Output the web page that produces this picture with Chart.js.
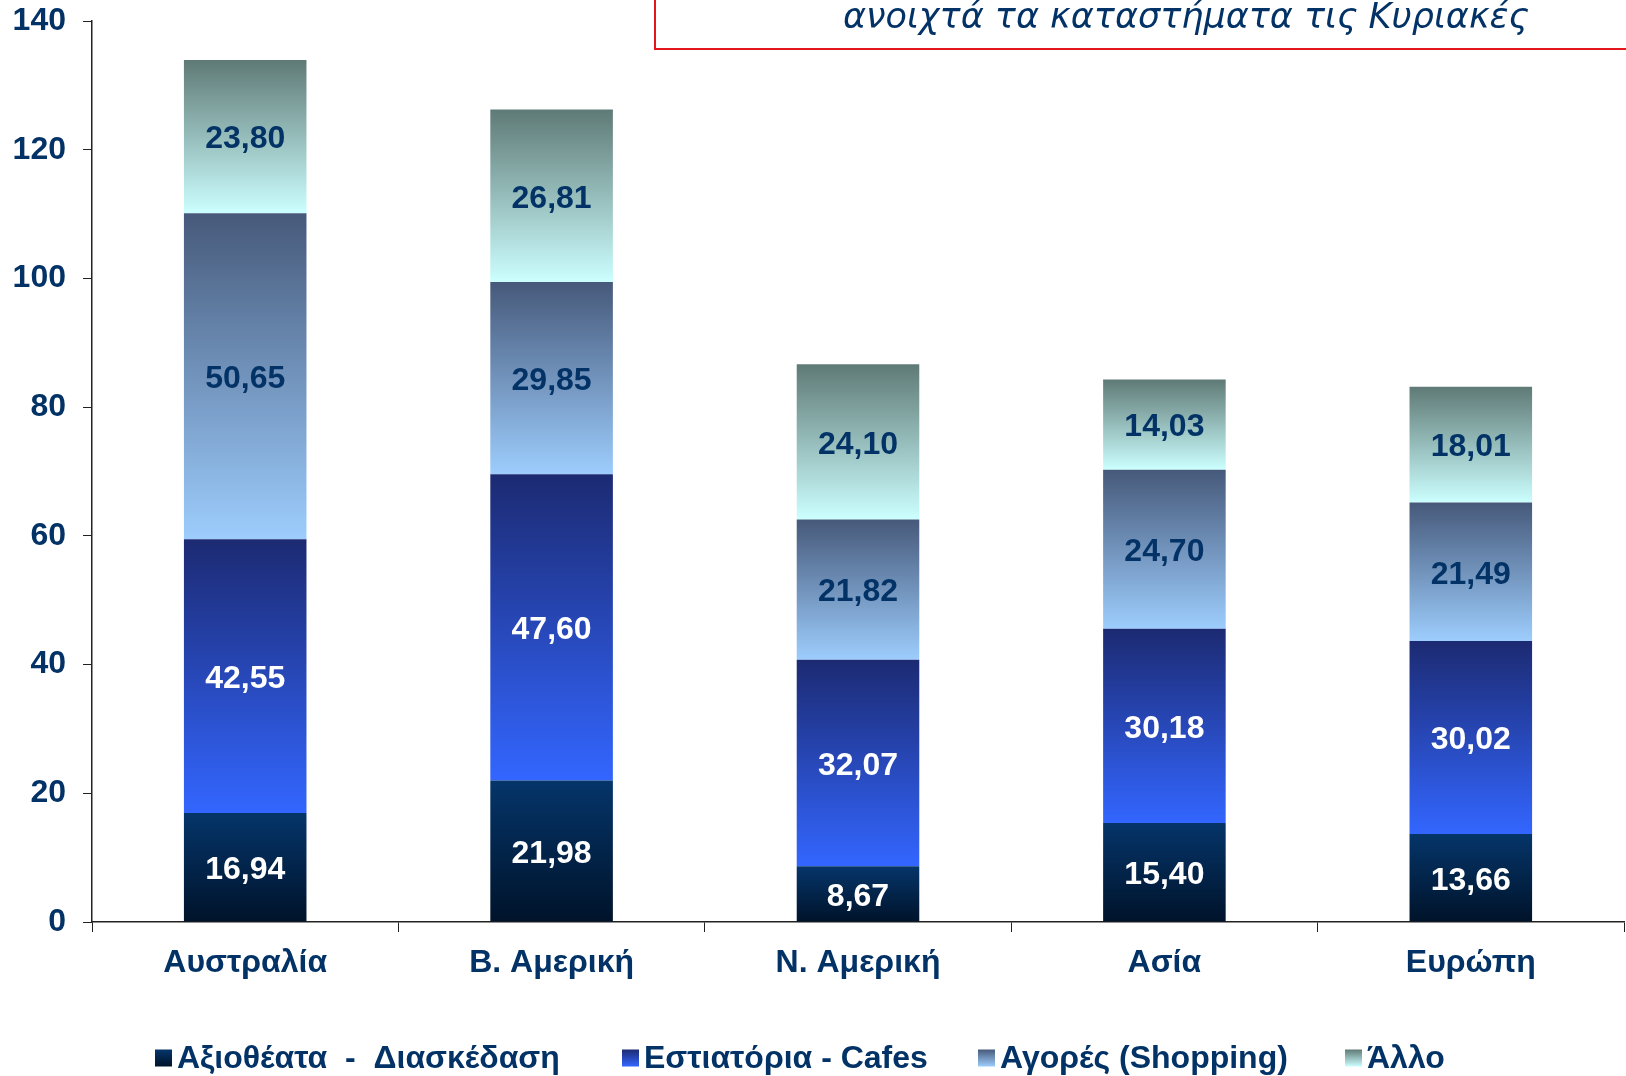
<!DOCTYPE html>
<html>
<head>
<meta charset="utf-8">
<script src="https://cdn.jsdelivr.net/npm/chart.js@4/dist/chart.umd.min.js"></script>
<style>
  html, body { margin: 0; padding: 0; background: #ffffff; }
  #contenedor { width: 1626px; height: 1076px; }
</style>
</head>
<body>
<div id="contenedor"><canvas id="graficoGastos" width="1626" height="1076"></canvas></div>
<script>
// Datos
const categorias = ["Αυστραλία", "Β. Αμερική", "Ν. Αμερική", "Ασία", "Ευρώπη"];
const nombresSeries = ["Αξιοθέατα  -  Διασκέδαση", "Εστιατόρια - Cafes", "Αγορές (Shopping)", "Άλλο"];
const valoresAxiotheata = [16.94, 21.98, 8.67, 15.40, 13.66];
const valoresEstiatoria = [42.55, 47.60, 32.07, 30.18, 30.02];
const valoresAgores = [50.65, 29.85, 21.82, 24.70, 21.49];
const valoresAllo = [23.80, 26.81, 24.10, 14.03, 18.01];
const tituloTexto = "ανοιχτά τα καταστήματα τις Κυριακές";

const AZUL_TEXTO = "#033366";
const FUENTE = "'Liberation Sans', Arial, sans-serif";

// Colores del degradado (arriba, abajo) para cada serie
const degradados = [
  ["#05356a", "#00132a"],
  ["#1c2a72", "#3366ff"],
  ["#46597a", "#9dcdfd"],
  ["#5f7a76", "#ccffff"],
];
const colorEtiqueta = ["#ffffff", "#ffffff", AZUL_TEXTO, AZUL_TEXTO];

// Posición horizontal del cuadrito de cada elemento de la leyenda
const leyendaX = [155, 622, 978, 1345];

function colorDegradado(context) {
  const chart = context.chart;
  const par = degradados[context.datasetIndex];
  if (!chart.chartArea || context.type !== "data") {
    return par[1];
  }
  const escalaY = chart.scales.y;
  let inicio = 0;
  for (let k = 0; k < context.datasetIndex; k++) {
    inicio += chart.data.datasets[k].data[context.dataIndex];
  }
  const valor = chart.data.datasets[context.datasetIndex].data[context.dataIndex];
  const yArriba = escalaY.getPixelForValue(inicio + valor);
  const yAbajo = escalaY.getPixelForValue(inicio);
  const g = chart.ctx.createLinearGradient(0, yArriba, 0, yAbajo);
  g.addColorStop(0, par[0]);
  g.addColorStop(1, par[1]);
  return g;
}

// Etiquetas con el valor dentro de cada segmento
const pluginEtiquetas = {
  id: "etiquetas",
  afterDatasetsDraw(chart) {
    const ctx = chart.ctx;
    ctx.save();
    ctx.font = "bold 32px " + FUENTE;
    ctx.textAlign = "center";
    ctx.textBaseline = "middle";
    chart.data.datasets.forEach(function (ds, i) {
      const meta = chart.getDatasetMeta(i);
      ctx.fillStyle = colorEtiqueta[i];
      meta.data.forEach(function (barra, j) {
        const y = (barra.y + barra.base) / 2;
        ctx.fillText(ds.data[j].toFixed(2).replace(".", ","), barra.x, y + 3);
      });
    });
    ctx.restore();
  },
};

// Recuadro rojo con el título (cortado arriba) y leyenda inferior
const pluginDecoracion = {
  id: "decoracion",
  afterDraw(chart) {
    const ctx = chart.ctx;
    ctx.save();
    ctx.strokeStyle = "#e3161e";
    ctx.lineWidth = 2;
    ctx.strokeRect(655, -10, 1000, 59);

    ctx.fillStyle = AZUL_TEXTO;
    ctx.font = "oblique 35px 'DejaVu Sans', sans-serif";
    ctx.textAlign = "center";
    ctx.textBaseline = "alphabetic";
    ctx.fillText(tituloTexto, 1186, 28);

    // Leyenda
    ctx.font = "bold 32px " + FUENTE;
    ctx.textAlign = "left";
    ctx.textBaseline = "middle";
    const yCentro = 1058;
    nombresSeries.forEach(function (nombre, i) {
      const x = leyendaX[i];
      const g = ctx.createLinearGradient(0, yCentro - 8.5, 0, yCentro + 8.5);
      g.addColorStop(0, degradados[i][0]);
      g.addColorStop(1, degradados[i][1]);
      ctx.fillStyle = g;
      ctx.fillRect(x, yCentro - 8.5, 17, 17);
      ctx.fillStyle = AZUL_TEXTO;
      ctx.fillText(nombre, x + 22, yCentro + 1);
    });
    ctx.restore();
  },
};

const seriesValores = [valoresAxiotheata, valoresEstiatoria, valoresAgores, valoresAllo];

const datos = {
  labels: categorias,
  datasets: seriesValores.map(function (valores, i) {
    return {
      label: nombresSeries[i],
      data: valores,
      backgroundColor: colorDegradado,
      borderWidth: 0,
      barPercentage: 0.4,
      categoryPercentage: 1,
    };
  }),
};

const config = {
  type: "bar",
  data: datos,
  options: {
    responsive: false,
    animation: false,
    layout: { padding: { top: 21, right: 2, bottom: 94, left: 0 } },
    plugins: {
      legend: { display: false },
      tooltip: { enabled: false },
    },
    scales: {
      x: {
        stacked: true,
        afterFit: function (escala) {
          escala.height = 60;
          escala.paddingLeft = 0;
          escala.paddingRight = 0;
        },
        border: { color: "#222222", width: 1.5 },
        grid: { drawOnChartArea: false, tickLength: 10, color: "#222222", offset: true },
        ticks: {
          color: AZUL_TEXTO,
          padding: 12,
          font: { family: FUENTE, size: 32, weight: "bold" },
        },
      },
      y: {
        stacked: true,
        min: 0,
        max: 140,
        afterFit: function (escala) {
          escala.width = 92;
          escala.paddingTop = 0;
          escala.paddingBottom = 0;
        },
        border: { color: "#222222", width: 1.5 },
        grid: { drawOnChartArea: false, tickLength: 9, color: "#222222" },
        ticks: {
          stepSize: 20,
          color: AZUL_TEXTO,
          padding: 17,
          font: { family: FUENTE, size: 32, weight: "bold" },
        },
      },
    },
  },
  plugins: [pluginEtiquetas, pluginDecoracion],
};

const ctx = document.getElementById("graficoGastos").getContext("2d");
new Chart(ctx, config);
</script>
</body>
</html>
